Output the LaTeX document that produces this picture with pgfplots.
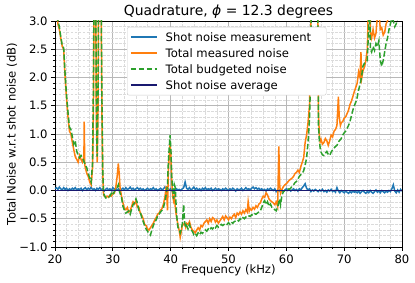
\documentclass[border=0pt]{standalone}
\usepackage{fontspec}
\setmainfont{DejaVu Sans}
\usepackage{pgfplots}
\usepackage{pgfplotstable}
\pgfplotsset{compat=1.18}
\definecolor{mplblue}{HTML}{1F77B4}
\definecolor{mplorange}{HTML}{FF7F0E}
\definecolor{mplgreen}{HTML}{2CA02C}
\definecolor{navyc}{HTML}{191970}
\newcommand{\lstrut}{\rule[-3.5pt]{0pt}{14pt}}
\pgfplotstableread{
x o g
20.00 3.60 3.65
20.25 3.20 3.25
20.50 2.95 3.00
20.75 2.85 2.90
21.00 2.70 2.72
21.25 2.55 2.57
21.50 2.50 2.52
21.75 2.00 2.05
22.00 1.62 1.68
22.25 1.30 1.38
22.50 1.05 1.12
22.75 1.00 1.08
23.00 0.85 0.95
23.25 0.72 0.82
23.50 0.60 0.88
23.75 0.55 0.70
24.00 0.50 0.62
24.25 0.62 0.58
24.50 0.55 0.62
24.75 0.50 0.58
25.00 0.60 0.52
25.05 1.22 0.50
25.15 0.45 0.48
25.25 0.40 0.45
25.50 0.30 0.40
25.75 0.25 0.30
26.00 0.15 0.22
26.25 0.10 0.15
26.50 0.40 0.50
26.65 1.50 2.00
26.80 4.50 4.50
27.00 4.50 4.50
27.15 1.20 1.50
27.30 0.50 0.60
27.45 1.50 1.80
27.60 4.50 4.50
27.90 4.50 4.50
28.10 1.50 1.80
28.25 0.30 0.40
28.40 -0.08 -0.05
28.75 -0.12 -0.13
29.00 -0.10 -0.14
29.25 -0.12 -0.12
29.50 -0.08 -0.10
29.75 -0.10 -0.05
30.00 -0.05 -0.08
30.25 -0.05 -0.02
30.50 0.05 0.02
30.75 0.25 0.05
30.95 0.48 0.10
31.10 0.30 0.00
31.25 0.05 -0.05
31.50 -0.10 -0.12
31.75 -0.22 -0.28
32.00 -0.32 -0.35
32.25 -0.34 -0.40
32.50 -0.30 -0.38
32.75 -0.38 -0.36
33.00 -0.36 -0.42
33.25 -0.28 -0.33
33.50 -0.20 -0.25
33.75 -0.24 -0.22
34.00 -0.18 -0.15
34.25 -0.30 -0.22
34.50 -0.30 -0.35
34.75 -0.40 -0.38
35.00 -0.44 -0.48
35.25 -0.50 -0.55
35.50 -0.60 -0.62
35.75 -0.62 -0.68
36.00 -0.68 -0.72
36.25 -0.70 -0.76
36.50 -0.66 -0.79
36.75 -0.62 -0.70
37.00 -0.58 -0.62
37.25 -0.52 -0.56
37.50 -0.48 -0.52
37.75 -0.42 -0.45
38.00 -0.40 -0.42
38.25 -0.35 -0.38
38.50 -0.32 -0.35
38.75 -0.24 -0.30
39.00 -0.12 -0.20
39.25 0.08 -0.05
39.45 -0.35 0.10
39.60 0.35 0.50
39.75 0.60 0.75
39.90 0.82 0.98
40.05 0.60 0.70
40.20 0.15 0.20
40.35 -0.10 0.05
40.50 -0.18 -0.15
40.65 -0.10 0.10
40.80 -0.30 0.05
41.00 -0.46 -0.40
41.25 -0.60 -0.65
41.50 -0.72 -0.70
41.65 -0.83 -0.75
41.85 -0.72 -0.68
42.00 -0.62 -0.60
42.25 -0.60 -0.25
42.40 -0.58 -0.55
42.60 -0.65 -0.66
42.75 -0.58 -0.62
43.00 -0.60 -0.68
43.25 -0.55 -0.60
43.50 -0.65 -0.70
43.75 -0.70 -0.72
44.00 -0.72 -0.78
44.25 -0.75 -0.76
44.50 -0.70 -0.80
44.75 -0.66 -0.75
45.00 -0.70 -0.78
45.25 -0.62 -0.74
45.50 -0.64 -0.76
45.75 -0.58 -0.72
46.00 -0.55 -0.70
46.25 -0.52 -0.72
46.50 -0.58 -0.68
46.75 -0.50 -0.70
47.00 -0.55 -0.66
47.25 -0.48 -0.68
47.50 -0.50 -0.64
47.75 -0.56 -0.66
48.00 -0.52 -0.62
48.25 -0.58 -0.65
48.50 -0.54 -0.63
48.75 -0.50 -0.60
49.00 -0.46 -0.62
49.25 -0.52 -0.60
49.50 -0.45 -0.58
49.75 -0.48 -0.60
50.00 -0.52 -0.57
50.25 -0.47 -0.60
50.50 -0.50 -0.56
50.75 -0.45 -0.58
51.00 -0.42 -0.55
51.25 -0.48 -0.54
51.50 -0.40 -0.52
51.75 -0.43 -0.54
52.00 -0.38 -0.50
52.25 -0.42 -0.52
52.50 -0.36 -0.48
52.75 -0.40 -0.50
53.00 -0.34 -0.47
53.25 -0.38 -0.48
53.40 -0.20 -0.46
53.60 -0.36 -0.45
53.75 -0.32 -0.46
54.00 -0.35 -0.43
54.25 -0.30 -0.44
54.50 -0.33 -0.41
54.75 -0.27 -0.42
55.00 -0.30 -0.40
55.25 -0.24 -0.38
55.50 -0.22 -0.36
55.75 -0.15 -0.30
56.00 -0.10 -0.22
56.25 -0.12 -0.18
56.50 -0.04 -0.25
56.75 -0.08 -0.20
57.00 -0.15 -0.28
57.25 -0.18 -0.24
57.50 -0.20 -0.30
57.75 -0.22 -0.32
58.00 -0.25 -0.34
58.25 -0.20 -0.36
58.50 -0.28 -0.30
58.70 0.78 -0.20
58.85 0.10 -0.15
59.00 -0.05 -0.25
59.25 0.02 -0.08
59.50 0.07 -0.02
59.75 0.10 0.00
60.00 0.12 0.02
60.25 0.15 0.03
60.50 0.18 0.02
60.75 0.20 0.04
61.00 0.22 0.08
61.25 0.25 0.10
61.50 0.30 0.14
61.75 0.32 0.16
62.00 0.36 0.20
62.25 0.32 0.25
62.50 0.42 0.28
62.75 0.50 0.30
63.00 0.58 0.35
63.25 0.85 0.45
63.50 0.98 0.57
63.75 1.20 0.85
64.00 1.50 1.25
64.20 2.50 2.00
64.40 4.50 4.50
65.40 4.50 4.50
65.55 1.40 1.16
65.70 1.00 0.90
65.85 0.86 0.75
66.00 0.90 0.68
66.25 0.82 0.63
66.50 0.85 0.62
66.75 0.92 0.66
67.00 0.88 0.69
67.25 0.80 0.64
67.50 0.88 0.62
67.75 0.98 0.68
68.00 0.95 0.72
68.25 1.05 0.75
68.50 1.08 0.78
68.75 1.15 0.80
69.00 1.66 0.85
69.15 1.30 0.88
69.35 1.15 0.90
69.50 1.20 0.92
69.75 1.22 0.98
70.00 1.28 1.02
70.25 1.30 1.05
70.50 1.36 1.10
70.75 1.42 1.15
71.00 1.52 1.22
71.25 1.58 1.32
71.50 1.66 1.42
71.75 1.75 1.50
72.00 1.82 1.56
72.25 1.90 1.65
72.50 2.10 1.78
72.75 2.00 1.88
72.90 2.45 1.95
73.05 2.00 2.05
73.25 2.12 2.20
73.50 2.18 2.25
73.75 2.30 2.28
74.00 2.50 2.30
74.20 3.30 2.80
74.35 4.00 3.50
74.55 2.80 2.50
74.75 2.70 2.45
75.00 2.85 2.55
75.25 2.70 2.48
75.50 2.78 2.60
75.75 3.10 2.55
76.00 3.20 2.65
76.25 2.85 2.30
76.50 2.88 2.20
76.75 2.75 2.30
77.00 2.80 2.45
77.25 2.95 2.60
77.50 3.00 2.70
77.75 3.20 2.85
78.00 3.30 2.95
78.25 3.35 3.05
78.50 3.30 3.00
78.75 3.40 2.90
79.00 3.25 2.95
79.25 3.35 3.05
79.50 3.40 3.10
79.75 3.50 3.15
80.00 3.50 3.20
}\noisetable
\pgfplotstableread{
x s
20.00 0.03
20.25 0.05
20.50 0.02
20.75 0.06
21.00 0.03
21.25 0.01
21.50 0.05
21.75 0.02
22.00 0.04
22.25 0.00
22.50 0.03
22.75 0.01
23.00 0.04
23.25 0.02
23.50 0.05
23.75 0.01
24.00 0.03
24.25 0.02
24.50 0.04
24.75 0.00
25.00 0.03
25.25 0.05
25.50 0.01
25.75 0.04
26.00 0.02
26.25 0.06
26.50 0.01
26.75 0.03
27.00 0.00
27.25 0.04
27.50 0.02
27.75 0.05
28.00 0.01
28.25 0.03
28.50 -0.01
28.75 0.02
29.00 0.04
29.25 0.01
29.50 0.03
29.75 0.00
30.00 0.05
30.25 0.02
30.50 0.04
30.75 0.01
31.00 0.03
31.25 -0.01
31.50 0.02
31.75 0.04
32.00 0.01
32.25 0.05
32.50 0.02
32.75 0.03
33.00 0.06
33.25 0.02
33.50 0.04
33.75 0.01
34.00 0.03
34.25 0.05
34.50 0.02
34.75 0.04
35.00 0.01
35.25 0.03
35.50 0.00
35.75 0.02
36.00 0.04
36.25 0.01
36.50 0.03
36.75 0.02
37.00 0.05
37.25 0.01
37.50 0.03
37.75 0.00
38.00 0.02
38.25 0.04
38.50 0.01
38.75 0.03
39.00 0.06
39.25 0.02
39.50 0.04
39.75 0.01
40.00 0.03
40.25 -0.01
40.50 0.02
40.75 0.00
41.00 0.03
41.25 0.01
41.50 0.02
41.75 0.00
42.00 0.03
42.25 0.05
42.50 0.15
42.75 0.04
43.00 0.02
43.25 0.05
43.50 0.01
43.75 0.03
44.00 0.06
44.25 0.02
44.50 0.04
44.75 0.01
45.00 0.03
45.25 0.00
45.50 0.04
45.75 0.02
46.00 0.05
46.25 0.01
46.50 0.03
46.75 0.02
47.00 0.04
47.25 0.00
47.50 0.02
47.75 0.04
48.00 0.01
48.25 0.03
48.50 0.02
48.75 0.00
49.00 0.03
49.25 0.01
49.50 0.04
49.75 0.02
50.00 0.00
50.25 0.03
50.50 0.01
50.75 0.04
51.00 0.02
51.25 -0.01
51.50 0.03
51.75 0.01
52.00 0.02
52.25 0.04
52.50 0.00
52.75 0.02
53.00 0.05
53.25 0.02
53.50 0.03
53.75 0.01
54.00 0.04
54.25 0.06
54.50 0.03
54.75 0.05
55.00 0.02
55.25 0.04
55.50 0.01
55.75 0.03
56.00 0.00
56.25 0.02
56.50 -0.01
56.75 0.03
57.00 0.01
57.25 0.04
57.50 0.02
57.75 0.00
58.00 0.03
58.25 -0.02
58.50 0.01
58.75 -0.01
59.00 0.02
59.25 0.00
59.50 -0.02
59.75 0.01
60.00 0.03
60.25 0.00
60.50 0.02
60.75 -0.01
61.00 0.01
61.25 0.03
61.50 0.00
61.75 0.02
62.00 -0.01
62.25 0.03
62.50 0.01
62.75 0.05
63.00 0.08
63.25 0.12
63.50 0.04
63.75 0.01
64.00 0.03
64.25 -0.02
64.50 0.01
64.75 -0.01
65.00 0.02
65.25 0.00
65.50 -0.02
65.75 0.01
66.00 -0.01
66.25 0.02
66.50 -0.02
66.75 0.00
67.00 -0.03
67.25 0.01
67.50 -0.01
67.75 0.02
68.00 -0.02
68.25 0.00
68.50 -0.03
68.75 0.05
69.00 -0.01
69.25 -0.04
69.50 0.00
69.75 -0.02
70.00 -0.04
70.25 -0.01
70.50 -0.03
70.75 -0.05
71.00 -0.02
71.25 -0.04
71.50 -0.01
71.75 -0.03
72.00 -0.02
72.25 -0.04
72.50 -0.01
72.75 -0.05
73.00 -0.02
73.25 0.00
73.50 -0.03
73.75 -0.05
74.00 -0.02
74.25 -0.04
74.50 0.00
74.75 -0.03
75.00 -0.05
75.25 -0.02
75.50 0.01
75.75 -0.03
76.00 -0.01
76.25 -0.04
76.50 0.00
76.75 -0.02
77.00 -0.04
77.25 -0.01
77.50 -0.03
77.75 0.00
78.00 -0.02
78.25 0.03
78.50 0.10
78.75 -0.01
79.00 -0.04
79.25 0.01
79.50 -0.03
79.75 0.02
80.00 -0.01
}\shottable
\begin{document}
\begin{tikzpicture}
\path (-55pt,-36pt) rectangle (360pt,247pt);
\begin{axis}[
  at={(0,0)}, anchor=south west,
  scale only axis, width=347pt, height=226pt,
  xmin=20, xmax=80, ymin=-1, ymax=3,
  xtick={20,30,40,50,60,70,80},
  xticklabels={20,30,40,50,60,70,80},
  ytick={-1,-0.5,0,0.5,1,1.5,2,2.5,3},
  yticklabels={−1.0,−0.5,0.0,0.5,1.0,1.5,2.0,2.5,3.0},
  minor x tick num=4, minor y tick num=4,
  xtick pos=bottom, ytick pos=left,
  tick align=outside,
  major tick length=4pt, minor tick length=2.2pt,
  every tick/.style={black, line width=0.7pt},
  grid=both,
  major grid style={color=black!28, line width=0.7pt},
  minor grid style={color=black!14, line width=0.5pt, dash pattern=on 2.5pt off 1.5pt},
  axis line style={black, line width=0.8pt},
  ticklabel style={font=\fontsize{11.6}{13}\selectfont},
  xlabel={Frequency (kHz)},
  ylabel={Total Noise w.r.t shot noise (dB)},
  label style={font=\fontsize{11.6}{13}\selectfont},
  xlabel style={at={(axis description cs:0.5,-0.102)}, anchor=center},
  ylabel style={at={(axis description cs:-0.124,0.5)}, anchor=center},
  title={Quadrature, \textit{ϕ} = 12.3 degrees},
  title style={font=\fontsize{13.9}{16}\selectfont, at={(axis description cs:0.5,1.04)}, anchor=center, yshift=-6pt},
  legend cell align=left,
  legend image code/.code={\draw[mark repeat=2,mark phase=2,#1,line width=1.5pt] plot coordinates {(0pt,0pt) (13pt,0pt) (26pt,0pt)};},
  legend style={at={(0.2075,0.9735)}, anchor=north west,
    font=\fontsize{11.6}{13}\selectfont,
    fill=white, draw=black!20, rounded corners=2pt},
]
\addplot[mplblue, line width=1.5pt] table[x=x, y=s] {\shottable};
\addlegendentry{\lstrut\hspace*{6pt}Shot noise measurement\hspace*{10pt}}
\addplot[mplorange, line width=1.5pt] table[x=x, y=o] {\noisetable};
\addlegendentry{\lstrut\hspace*{6pt}Total measured noise}
\addplot[mplgreen, line width=1.5pt, dash pattern=on 5.5pt off 2.4pt] table[x=x, y=g] {\noisetable};
\addlegendentry{\lstrut\hspace*{6pt}Total budgeted noise}
\addplot[navyc, line width=1.5pt] coordinates {(20,0) (80,0)};
\addlegendentry{\lstrut\hspace*{6pt}Shot noise average}
\end{axis}
\end{tikzpicture}
\end{document}
